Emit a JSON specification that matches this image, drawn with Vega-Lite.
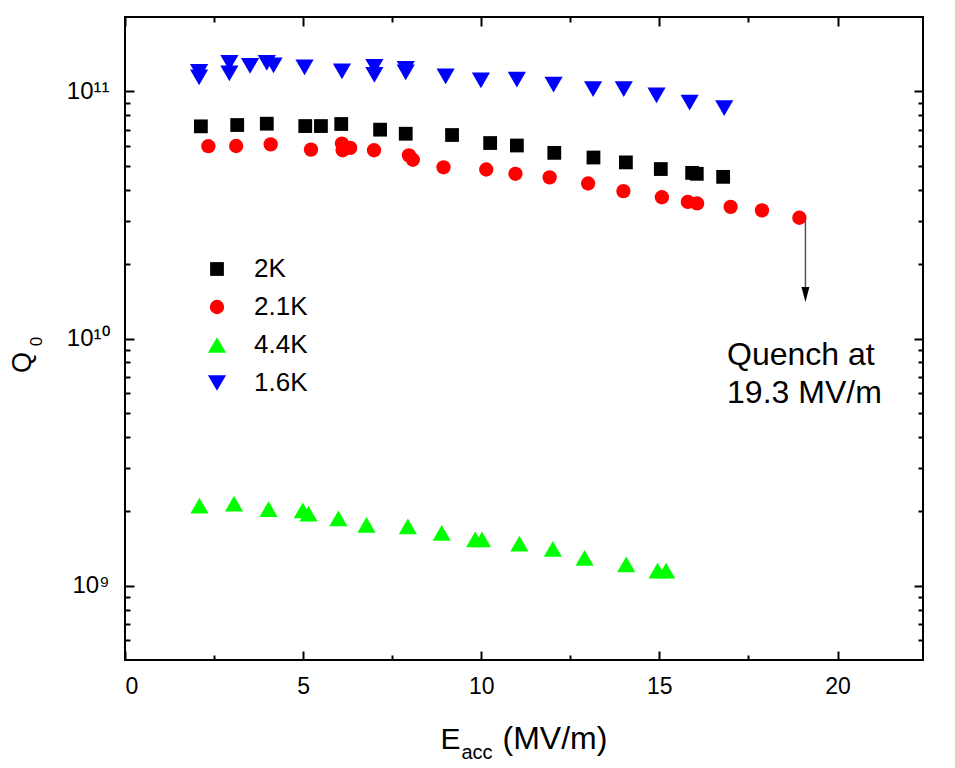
{
  "$schema": "https://vega.github.io/schema/vega-lite/v6.json",
  "width": 798,
  "height": 643,
  "autosize": {"type": "none"},
  "padding": {"left": 125, "top": 17, "right": 32, "bottom": 108},
  "background": "white",
  "config": {
    "view": {"stroke": "black", "strokeWidth": 2},
    "font": "Liberation Sans",
    "axis": {
      "grid": false, "domain": false, "tickColor": "black", "tickWidth": 2,
      "labelColor": "black", "titleColor": "black",
      "labelFont": "Liberation Sans", "titleFont": "Liberation Sans",
      "titleFontWeight": "normal", "labelFontSize": 22
    },
    "legend": {"labelFont": "Liberation Sans"}
  },
  "datasets": {
    "pts": [
      {"E": 2.13, "Q": 7.22e10, "s": "2K"},
      {"E": 3.15, "Q": 7.31e10, "s": "2K"},
      {"E": 3.98, "Q": 7.40e10, "s": "2K"},
      {"E": 5.06, "Q": 7.24e10, "s": "2K"},
      {"E": 5.5, "Q": 7.24e10, "s": "2K"},
      {"E": 6.07, "Q": 7.38e10, "s": "2K"},
      {"E": 7.16, "Q": 7.0e10, "s": "2K"},
      {"E": 7.88, "Q": 6.74e10, "s": "2K"},
      {"E": 9.18, "Q": 6.66e10, "s": "2K"},
      {"E": 10.25, "Q": 6.18e10, "s": "2K"},
      {"E": 11.0, "Q": 6.04e10, "s": "2K"},
      {"E": 12.05, "Q": 5.64e10, "s": "2K"},
      {"E": 13.15, "Q": 5.40e10, "s": "2K"},
      {"E": 14.06, "Q": 5.16e10, "s": "2K"},
      {"E": 15.04, "Q": 4.85e10, "s": "2K"},
      {"E": 15.92, "Q": 4.68e10, "s": "2K"},
      {"E": 16.05, "Q": 4.64e10, "s": "2K"},
      {"E": 16.79, "Q": 4.51e10, "s": "2K"},
      {"E": 2.34, "Q": 6.0e10, "s": "2.1K"},
      {"E": 3.12, "Q": 6.01e10, "s": "2.1K"},
      {"E": 4.09, "Q": 6.10e10, "s": "2.1K"},
      {"E": 5.22, "Q": 5.81e10, "s": "2.1K"},
      {"E": 6.09, "Q": 6.15e10, "s": "2.1K"},
      {"E": 6.11, "Q": 5.78e10, "s": "2.1K"},
      {"E": 6.32, "Q": 5.91e10, "s": "2.1K"},
      {"E": 6.99, "Q": 5.78e10, "s": "2.1K"},
      {"E": 7.97, "Q": 5.51e10, "s": "2.1K"},
      {"E": 8.08, "Q": 5.29e10, "s": "2.1K"},
      {"E": 8.94, "Q": 4.93e10, "s": "2.1K"},
      {"E": 10.14, "Q": 4.83e10, "s": "2.1K"},
      {"E": 10.96, "Q": 4.64e10, "s": "2.1K"},
      {"E": 11.92, "Q": 4.49e10, "s": "2.1K"},
      {"E": 13.0, "Q": 4.24e10, "s": "2.1K"},
      {"E": 13.99, "Q": 3.95e10, "s": "2.1K"},
      {"E": 15.07, "Q": 3.73e10, "s": "2.1K"},
      {"E": 15.8, "Q": 3.57e10, "s": "2.1K"},
      {"E": 16.06, "Q": 3.52e10, "s": "2.1K"},
      {"E": 17.0, "Q": 3.41e10, "s": "2.1K"},
      {"E": 17.88, "Q": 3.30e10, "s": "2.1K"},
      {"E": 18.93, "Q": 3.08e10, "s": "2.1K"},
      {"E": 2.09, "Q": 2.105e9, "s": "4.4K"},
      {"E": 3.06, "Q": 2.145e9, "s": "4.4K"},
      {"E": 4.03, "Q": 2.04e9, "s": "4.4K"},
      {"E": 4.99, "Q": 2.015e9, "s": "4.4K"},
      {"E": 5.15, "Q": 1.954e9, "s": "4.4K"},
      {"E": 5.99, "Q": 1.87e9, "s": "4.4K"},
      {"E": 6.78, "Q": 1.76e9, "s": "4.4K"},
      {"E": 7.94, "Q": 1.736e9, "s": "4.4K"},
      {"E": 8.89, "Q": 1.633e9, "s": "4.4K"},
      {"E": 9.83, "Q": 1.538e9, "s": "4.4K"},
      {"E": 10.02, "Q": 1.538e9, "s": "4.4K"},
      {"E": 11.07, "Q": 1.478e9, "s": "4.4K"},
      {"E": 12.01, "Q": 1.407e9, "s": "4.4K"},
      {"E": 12.9, "Q": 1.294e9, "s": "4.4K"},
      {"E": 14.07, "Q": 1.22e9, "s": "4.4K"},
      {"E": 14.95, "Q": 1.15e9, "s": "4.4K"},
      {"E": 15.19, "Q": 1.15e9, "s": "4.4K"},
      {"E": 2.08, "Q": 1.199e11, "s": "1.6K"},
      {"E": 2.08, "Q": 1.139e11, "s": "1.6K"},
      {"E": 2.93, "Q": 1.304e11, "s": "1.6K"},
      {"E": 2.93, "Q": 1.182e11, "s": "1.6K"},
      {"E": 3.51, "Q": 1.268e11, "s": "1.6K"},
      {"E": 3.98, "Q": 1.304e11, "s": "1.6K"},
      {"E": 4.17, "Q": 1.274e11, "s": "1.6K"},
      {"E": 5.04, "Q": 1.25e11, "s": "1.6K"},
      {"E": 6.09, "Q": 1.204e11, "s": "1.6K"},
      {"E": 7.0, "Q": 1.256e11, "s": "1.6K"},
      {"E": 7.0, "Q": 1.166e11, "s": "1.6K"},
      {"E": 7.88, "Q": 1.233e11, "s": "1.6K"},
      {"E": 7.88, "Q": 1.193e11, "s": "1.6K"},
      {"E": 9.0, "Q": 1.15e11, "s": "1.6K"},
      {"E": 9.99, "Q": 1.108e11, "s": "1.6K"},
      {"E": 11.0, "Q": 1.115e11, "s": "1.6K"},
      {"E": 12.03, "Q": 1.064e11, "s": "1.6K"},
      {"E": 13.14, "Q": 1.022e11, "s": "1.6K"},
      {"E": 14.0, "Q": 1.022e11, "s": "1.6K"},
      {"E": 14.92, "Q": 9.63e10, "s": "1.6K"},
      {"E": 15.85, "Q": 9.0e10, "s": "1.6K"},
      {"E": 16.82, "Q": 8.56e10, "s": "1.6K"}
    ],
    "note": [{"E": 16.9, "Q": 8.58e9, "t": ["Quench at", "19.3 MV/m"]}],
    "arrow": [{"E": 19.1, "Q": 3.0e10, "Q2": 1.6e10, "Qh": 1.506e10}]
  },
  "layer": [
    {
      "data": {"name": "pts"},
      "mark": {"type": "point", "filled": true, "opacity": 1, "strokeWidth": 0},
      "encoding": {
        "x": {"field": "E", "type": "quantitative",
          "scale": {"domain": [0, 22.4], "nice": false, "zero": false},
          "axis": {"orient": "bottom", "values": [0, 5, 10, 15, 20], "tickSize": -9, "labelPadding": 24, "labelFontSize": 23,
            "title": "E", "titleFontSize": 30, "titleX": 315, "titleY": 88, "titleAlign": "left", "titleBaseline": "alphabetic", "titleAnchor": null}},
        "y": {"field": "Q", "type": "quantitative",
          "scale": {"type": "log", "domain": [5e8, 2e11], "nice": false},
          "axis": {"orient": "left", "values": [1e9, 1e10, 1e11], "tickSize": -9, "labelPadding": 25, "labelFontSize": 24,
            "labelExpr": "datum.value > 5e10 ? '10¹¹' : datum.value > 5e9 ? '10¹⁰' : '10⁹'",
            "title": "Q", "titleFontSize": 27, "titleX": -95, "titleY": 345, "titleAngle": -90, "titleAlign": "center", "titleBaseline": "alphabetic", "titleAnchor": null}},
        "color": {"field": "s", "type": "nominal",
          "scale": {"domain": ["2K", "2.1K", "4.4K", "1.6K"], "range": ["#000000", "#ff0000", "#00ff00", "#0000ff"]},
          "legend": {"orient": "none", "legendX": 79, "legendY": 239, "title": null, "labelFontSize": 26, "rowPadding": 12, "labelOffset": 24, "padding": 0, "symbolStrokeWidth": 0}},
        "shape": {"field": "s", "type": "nominal",
          "scale": {"domain": ["2K", "2.1K", "4.4K", "1.6K"], "range": ["square", "circle", "triangle-up", "triangle-down"]},
          "legend": {"orient": "none", "legendX": 79, "legendY": 239, "title": null, "labelFontSize": 26, "rowPadding": 12, "labelOffset": 24, "padding": 0, "symbolStrokeWidth": 0}},
        "size": {"field": "s", "type": "nominal",
          "scale": {"type": "ordinal", "domain": ["2K", "2.1K", "4.4K", "1.6K"], "range": [190, 205, 330, 330]},
          "legend": {"orient": "none", "legendX": 79, "legendY": 239, "title": null, "labelFontSize": 26, "rowPadding": 12, "labelOffset": 24, "padding": 0, "symbolStrokeWidth": 0}}
      }
    },
    {
      "data": {"name": "pts"},
      "mark": {"type": "point", "opacity": 0},
      "encoding": {
        "x": {"field": "E", "type": "quantitative", "scale": {"domain": [0, 22.4], "nice": false, "zero": false},
          "axis": {"orient": "top", "values": [0, 5, 10, 15, 20], "tickSize": -9, "labels": false,
            "title": "(MV/m)", "titleFontSize": 32, "titleX": 377, "titleY": 731, "titleAlign": "left", "titleBaseline": "alphabetic", "titleAnchor": null}},
        "y": {"field": "Q", "type": "quantitative", "scale": {"type": "log", "domain": [5e8, 2e11], "nice": false},
          "axis": {"orient": "right", "values": [1e9, 1e10, 1e11], "tickSize": -9, "labels": false, "title": null}}
      }
    },
    {
      "data": {"name": "pts"},
      "mark": {"type": "point", "opacity": 0},
      "encoding": {
        "x": {"field": "E", "type": "quantitative", "scale": {"domain": [0, 22.4], "nice": false, "zero": false},
          "axis": {"orient": "bottom", "values": [2.5, 7.5, 12.5, 17.5], "tickSize": -5, "labels": false,
            "title": "acc", "titleFontSize": 20, "titleX": 336, "titleY": 98, "titleAlign": "left", "titleBaseline": "alphabetic", "titleAnchor": null}},
        "y": {"field": "Q", "type": "quantitative", "scale": {"type": "log", "domain": [5e8, 2e11], "nice": false},
          "axis": {"orient": "left", "values": [6e8, 7e8, 8e8, 9e8, 2e9, 3e9, 4e9, 5e9, 6e9, 7e9, 8e9, 9e9, 2e10, 3e10, 4e10, 5e10, 6e10, 7e10, 8e10, 9e10], "tickSize": -5, "labels": false,
            "title": "0", "titleFontSize": 17, "titleX": -84, "titleY": 324, "titleAngle": -90, "titleAlign": "center", "titleBaseline": "alphabetic", "titleAnchor": null}}
      }
    },
    {
      "data": {"name": "pts"},
      "mark": {"type": "point", "opacity": 0},
      "encoding": {
        "x": {"field": "E", "type": "quantitative", "scale": {"domain": [0, 22.4], "nice": false, "zero": false},
          "axis": {"orient": "top", "values": [2.5, 7.5, 12.5, 17.5], "tickSize": -5, "labels": false, "title": null}},
        "y": {"field": "Q", "type": "quantitative", "scale": {"type": "log", "domain": [5e8, 2e11], "nice": false},
          "axis": {"orient": "right", "values": [6e8, 7e8, 8e8, 9e8, 2e9, 3e9, 4e9, 5e9, 6e9, 7e9, 8e9, 9e9, 2e10, 3e10, 4e10, 5e10, 6e10, 7e10, 8e10, 9e10], "tickSize": -5, "labels": false, "title": null}}
      }
    },
    {
      "data": {"name": "arrow"},
      "mark": {"type": "rule", "color": "#555555", "strokeWidth": 1.5},
      "encoding": {
        "x": {"field": "E", "type": "quantitative", "axis": null},
        "y": {"field": "Q", "type": "quantitative", "axis": null},
        "y2": {"field": "Q2"}
      }
    },
    {
      "data": {"name": "arrow"},
      "mark": {"type": "point", "filled": true, "opacity": 1, "color": "black", "strokeWidth": 0, "shape": "M-0.53,-1L0.53,-1L0,1Z", "size": 225},
      "encoding": {
        "x": {"field": "E", "type": "quantitative", "axis": null},
        "y": {"field": "Qh", "type": "quantitative", "axis": null}
      }
    },
    {
      "data": {"name": "note"},
      "mark": {"type": "text", "align": "left", "baseline": "middle", "fontSize": 32, "lineHeight": 38, "color": "black", "font": "Liberation Sans"},
      "encoding": {
        "x": {"field": "E", "type": "quantitative", "axis": null},
        "y": {"field": "Q", "type": "quantitative", "axis": null},
        "text": {"field": "t"}
      }
    }
  ],
  "resolve": {"axis": {"x": "independent", "y": "independent"}}
}
